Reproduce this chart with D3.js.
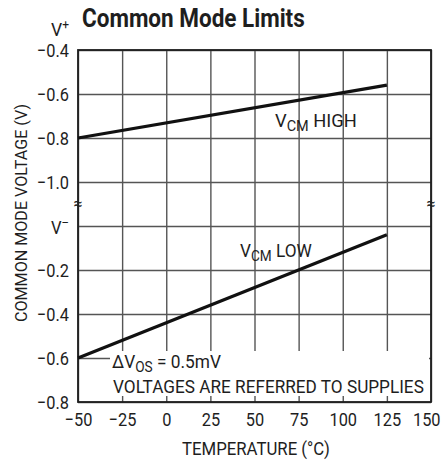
<!DOCTYPE html>
<html>
<head>
<meta charset="utf-8">
<script src="https://cdn.jsdelivr.net/npm/d3@7"></script>
<style>
  body { margin: 0; background: #fff; overflow: hidden; }
  svg text { font-family: "Roboto", "Liberation Sans", sans-serif; fill: #1e1e1e; }
  .tick line { stroke: #555; stroke-width: 1.4; }
</style>
</head>
<body>
<div id="container"></div>
<script>
const width = 444, height = 461;

// data
const temps = [-50, 125];
const vcmHigh = [-0.80, -0.56];
const vcmLow = [-0.60, -0.04];
const xTicks = [-50, -25, 0, 25, 50, 75, 100, 125, 150];
const hiTicks = [-0.4, -0.6, -0.8, -1.0];
const loTicks = [-0.2, -0.4, -0.6, -0.8];

const plotL = 78, plotR = 431, plotT = 50, plotB = 402, mid = 226;
const fs = 19, squeeze = 0.86;

const x = d3.scaleLinear([-50, 150], [plotL, plotR]);
const yHi = d3.scaleLinear([-1.2, -0.4], [mid, plotT]);
const yLo = d3.scaleLinear([-0.8, 0], [plotB, mid]);

const fmt = v => (v < 0 ? '\u2212' : '') + d3.format('.1f')(Math.abs(v));
const fmtX = v => (v < 0 ? '\u2212' : '') + Math.abs(v);

const svg = d3.select('#container').append('svg')
    .attr('width', width)
    .attr('height', height)
    .style('display', 'block');

// narrow the glyphs to look like a condensed face
function condense(sel, k) {
    sel.each(function() {
        const w = this.getComputedTextLength();
        d3.select(this).attr('textLength', w * k).attr('lengthAdjust', 'spacingAndGlyphs');
    });
}
// squeeze a whole text (with tspans) to a given width, left edge fixed
function fitWidth(t, w) {
    const b = t.node().getBBox();
    const k = w / b.width;
    t.attr('transform', `translate(${b.x},0) scale(${k},1) translate(${-b.x},0)`);
}

// vertical grid + x labels
const xAxis = svg.append('g')
    .attr('transform', `translate(0, ${plotB})`)
    .call(d3.axisBottom(x).tickValues(xTicks).tickSize(-(plotB - plotT)).tickPadding(11).tickFormat(fmtX));
xAxis.select('.domain').remove();
xAxis.selectAll('text').style('font-size', fs + 'px').call(condense, squeeze);
// last label would run off the page, pin its right edge instead
xAxis.selectAll('text').filter(d => d == 150).attr('text-anchor', 'end').attr('x', 9);

// horizontal grid, upper half
const hiAxis = svg.append('g')
    .attr('transform', `translate(${plotL}, 0)`)
    .call(d3.axisLeft(yHi).tickValues(hiTicks.concat([-1.2])).tickSize(-(plotR - plotL)).tickPadding(9).tickFormat(d => d == -1.2 ? '' : fmt(d)));
hiAxis.select('.domain').remove();
hiAxis.selectAll('text').filter(d => d != -1.2).style('font-size', fs + 'px').call(condense, squeeze);

// horizontal grid, lower half
const loAxis = svg.append('g')
    .attr('transform', `translate(${plotL}, 0)`)
    .call(d3.axisLeft(yLo).tickValues(loTicks).tickSize(-(plotR - plotL)).tickPadding(9).tickFormat(fmt));
loAxis.select('.domain').remove();
loAxis.selectAll('text').style('font-size', fs + 'px').call(condense, squeeze);

// rail labels
const rail = (sup, yy) => {
    const t = svg.append('text')
        .attr('x', 51).attr('y', yy)
        .style('font-size', fs + 'px');
    t.append('tspan').text('V');
    t.append('tspan').attr('dy', -7).style('font-size', '13px').text(sup);
    fitWidth(t, 18);
};
rail('+', 36);
rail('\u2013', 234);

// white box behind the note, grid stubs stay at the bottom
svg.append('rect')
    .attr('x', 110).attr('y', 351)
    .attr('width', plotR - 2 - 110).attr('height', 45)
    .attr('fill', '#fff');

// frame
svg.append('rect')
    .attr('x', plotL).attr('y', plotT)
    .attr('width', plotR - plotL).attr('height', plotB - plotT)
    .attr('fill', 'none').attr('stroke', '#1e1e1e').attr('stroke-width', 1.8);

// break marks
[plotL, plotR].forEach(px => {
    svg.append('text')
        .attr('x', px).attr('y', 209)
        .attr('text-anchor', 'middle')
        .style('font-size', '16px')
        .text('\u2248');
});

// curves
const line = sc => d3.line().x(d => x(d[0])).y(d => sc(d[1]));
svg.append('path')
    .datum(d3.zip(temps, vcmHigh))
    .attr('d', line(yHi))
    .attr('fill', 'none').attr('stroke', '#111').attr('stroke-width', 3.2);
svg.append('path')
    .datum(d3.zip(temps, vcmLow))
    .attr('d', line(yLo))
    .attr('fill', 'none').attr('stroke', '#111').attr('stroke-width', 3.2);

// curve labels
const subLabel = (xx, yy, main, sub, rest, w) => {
    const t = svg.append('text').attr('x', xx).attr('y', yy).style('font-size', fs + 'px');
    t.append('tspan').text(main);
    t.append('tspan').attr('dy', 4).style('font-size', '15px').text(sub);
    t.append('tspan').attr('dy', -4).text(rest);
    fitWidth(t, w);
    return t;
};
subLabel(275, 127, 'V', 'CM', ' HIGH', 82);
subLabel(240, 257, 'V', 'CM', ' LOW', 72);

// note
subLabel(112, 368, '\u0394V', 'OS', ' = 0.5mV', 109);
const note = svg.append('text')
    .attr('x', 113).attr('y', 393)
    .style('font-size', fs + 'px')
    .text('VOLTAGES ARE REFERRED TO SUPPLIES');
fitWidth(note, 311);

// title
const title = svg.append('text')
    .attr('x', 82).attr('y', 27)
    .style('font-size', '25px').style('font-weight', 'bold')
    .text('Common Mode Limits');
fitWidth(title, 223);

// axis titles
const xt = svg.append('text')
    .attr('x', 182).attr('y', 455)
    .style('font-size', fs + 'px')
    .text('TEMPERATURE (\u00B0C)');
fitWidth(xt, 148);

const yt = svg.append('text')
    .attr('transform', `translate(27, 213) rotate(-90)`)
    .attr('text-anchor', 'middle')
    .style('font-size', '17px')
    .text('COMMON MODE VOLTAGE (V)');
yt.attr('textLength', 218).attr('lengthAdjust', 'spacingAndGlyphs');
</script>
</body>
</html>
